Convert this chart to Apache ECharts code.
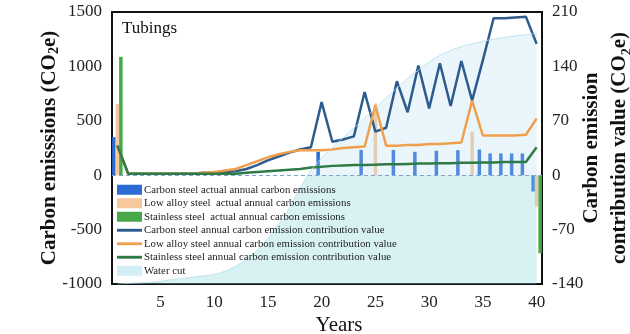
<!DOCTYPE html>
<html>
<head>
<meta charset="utf-8">
<script src="https://cdn.jsdelivr.net/npm/echarts@6/dist/echarts.min.js"></script>
<style>html,body{margin:0;padding:0;background:#fff}#c{width:630px;height:334px}</style>
</head>
<body>
<div id="c"></div>
<script>
// ---- data ----
const years = [1,2,3,4,5,6,7,8,9,10,11,12,13,14,15,16,17,18,19,20,21,22,23,24,25,26,27,28,29,30,31,32,33,34,35,36,37,38,39,40];
const xTickLabels = [5,10,15,20,25,30,35,40];

const carbonBarYears = [1,20,24,27,29,31,33,35,36,37,38,39,40];
const carbonBarValues = [350,215,232,232,215,225,230,236,200,200,200,200,-150];
const lowAlloyBarYears = [1,25,34,40];
const lowAlloyBarValues = [655,660,400,-290];
const stainlessBarYears = [1,40];
const stainlessBarValues = [1088,-717];

const carbonLine = [38,2,2,2,2,2,2,2,3,3,4,5,8,13,19,24,29,33,36,94,43,46,50,107,56,61,121,81,141,86,144,89,147,96,148,202,202,203,204,169];
const lowAlloyLine = [38,2,2,2,2,2,2,2,3,4,6,8,13,18,23,27,30,32,32,32,33,35,36,37,90,38,38,39,39,40,40,41,42,96,51,51,51,51,52,73];
const stainlessLine = [38,2,2,2,2,2,2,2,2,2,2,2,3,4,5,6,7,8,10,11,12,12.5,13,13,13.5,14,14,14.5,15,15,15.5,15.5,16,16,16.5,16.5,17,17,17,36];
const waterCut = [0,0.2,0.4,0.6,1.0,1.6,2.0,2.5,3.0,3.6,4.7,6.6,9.1,12.4,16.8,22.0,27.9,35.2,41.6,46.4,50.2,53.8,57.4,61.0,64.6,68.4,72.0,75.6,78.6,81.6,84.0,85.8,87.2,88.3,89.2,90.0,90.6,91.2,91.7,92.1];

const names = [
  'Carbon steel actual annual carbon emissions',
  'Low alloy steel  actual annual carbon emissions',
  'Stainless steel  actual annual carbon emissions',
  'Carbon steel annual carbon emission contribution value',
  'Low alloy steel annual carbon emission contribution value',
  'Stainless steel annual carbon emission contribution value',
  'Water cut'
];

const pair = (xs, ys) => xs.map((x, i) => [x, ys[i]]);
const FONT = 'Liberation Serif';
const LINE_ICON = 'path://M0,0L26,0L26,3L0,3Z';

const chart = echarts.init(document.getElementById('c'), null, {renderer: 'canvas'});
const areaGrad = new echarts.graphic.LinearGradient(0, 12, 0, 284, [
  {offset: 0, color: 'rgba(177,220,237,0.4)'},
  {offset: 0.599, color: 'rgba(177,220,237,0.4)'},
  {offset: 0.6, color: 'rgba(145,217,223,0.5)'},
  {offset: 1, color: 'rgba(145,217,223,0.5)'}
], true);

const subRich = {sub: {fontFamily: FONT, fontSize: 14, fontWeight: 'bold', color: '#111', verticalAlign: 'bottom', padding: [8,0,0,0]}};

chart.setOption({
  animation: false,
  textStyle: {fontFamily: FONT},
  title: {text: 'Tubings', left: 117, top: 15, textStyle: {fontFamily: FONT, fontSize: 17, fontWeight: 'normal', color: '#111'}},
  grid: {left: 112, right: 88, top: 12, bottom: 50, outerBoundsMode: 'none', containLabel: false,
    show: true, borderColor: '#111', borderWidth: 2, backgroundColor: 'transparent'},
  legend: {
    orient: 'vertical', left: 117, top: 183, padding: 0, itemGap: 0,
    itemWidth: 25, itemHeight: 10,
    textStyle: {fontFamily: FONT, fontSize: 10.8, color: '#222', lineHeight: 13.5, padding: [0,0,0,-3]},
    data: [
      {name: names[0], icon: 'rect'},
      {name: names[1], icon: 'rect'},
      {name: names[2], icon: 'rect'},
      {name: names[3], icon: LINE_ICON},
      {name: names[4], icon: LINE_ICON},
      {name: names[5], icon: LINE_ICON},
      {name: names[6], icon: 'rect', itemStyle: {color: '#d3eef4'}}
    ]
  },
  xAxis: {
    type: 'value', min: 0.5, max: 40.5,
    name: 'Years', nameLocation: 'middle', nameGap: 31, nameMoveOverlap: false,
    nameTextStyle: {fontFamily: FONT, fontSize: 21, color: '#111', padding: [0,0,0,24]},
    axisLine: {show: false}, axisTick: {show: false}, splitLine: {show: false},
    axisLabel: {customValues: xTickLabels, fontFamily: FONT, fontSize: 17, color: '#222', margin: 10}
  },
  yAxis: [
    {
      type: 'value', min: -1000, max: 1500, interval: 500, position: 'left',
      name: 'Carbon emisssions (CO{sub|2}e)', nameLocation: 'middle', nameGap: 51, nameMoveOverlap: false,
      nameTextStyle: {fontFamily: FONT, fontSize: 21, fontWeight: 'bold', color: '#111', rich: subRich},
      axisLine: {show: false}, axisTick: {show: false}, splitLine: {show: false},
      axisLabel: {fontFamily: FONT, fontSize: 17, color: '#222', margin: 10, formatter: v => String(v)}
    },
    {
      type: 'value', min: -140, max: 210, interval: 70, position: 'right',
      name: 'Carbon emission\ncontribution value (CO{sub|2}e)', nameLocation: 'middle', nameGap: 36, nameRotate: 90, nameMoveOverlap: false,
      nameTextStyle: {fontFamily: FONT, fontSize: 21, fontWeight: 'bold', color: '#111', lineHeight: 28, rich: subRich},
      axisLine: {show: false}, axisTick: {show: false}, splitLine: {show: false},
      axisLabel: {fontFamily: FONT, fontSize: 17, color: '#222', margin: 10, formatter: v => String(v)}
    },
    {type: 'value', min: 0, max: 100, show: false}
  ],
  series: [
    {
      name: names[0], type: 'bar', yAxisIndex: 0, barWidth: 3.5, barGap: '0%',
      itemStyle: {color: '#2b6bd6'}, data: pair(carbonBarYears, carbonBarValues),
      markLine: {silent: true, symbol: 'none', label: {show: false},
        lineStyle: {color: '#7fa3cc', type: [4, 3], width: 1}, data: [{yAxis: 0}]}
    },
    {
      name: names[1], type: 'bar', yAxisIndex: 0, barWidth: 3.5, barGap: '0%',
      itemStyle: {color: '#f6c89c'}, data: pair(lowAlloyBarYears, lowAlloyBarValues)
    },
    {
      name: names[2], type: 'bar', yAxisIndex: 0, barWidth: 3.5, barGap: '0%', z: 3,
      itemStyle: {color: '#47a84a'}, data: pair(stainlessBarYears, stainlessBarValues)
    },
    {
      name: names[3], type: 'line', yAxisIndex: 1, symbol: 'none', color: '#2d5b8e',
      lineStyle: {width: 2.5, color: '#2d5b8e'}, data: pair(years, carbonLine)
    },
    {
      name: names[4], type: 'line', yAxisIndex: 1, symbol: 'none', color: '#f0a04c',
      lineStyle: {width: 2.5, color: '#f0a04c'}, data: pair(years, lowAlloyLine)
    },
    {
      name: names[5], type: 'line', yAxisIndex: 1, symbol: 'none', color: '#2e7b45',
      lineStyle: {width: 2.5, color: '#2e7b45'}, data: pair(years, stainlessLine)
    },
    {
      name: names[6], type: 'line', yAxisIndex: 2, symbol: 'none', smooth: true, color: '#d3eef4',
      lineStyle: {width: 1, color: 'rgba(180,222,238,0.8)'},
      areaStyle: {color: areaGrad, origin: 'start'},
      data: pair(years, waterCut)
    }
  ]
});
</script>
</body>
</html>
